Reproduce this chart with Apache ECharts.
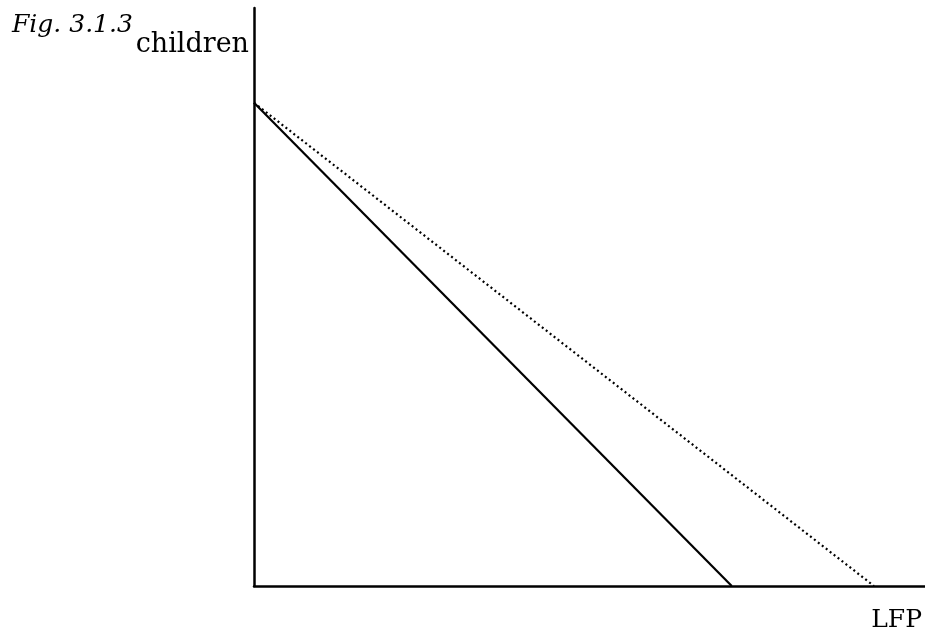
<!DOCTYPE html>
<html>
<head>
<meta charset="utf-8">
<script src="https://cdn.jsdelivr.net/npm/echarts@6/dist/echarts.min.js"></script>
<style>
  html, body { margin: 0; padding: 0; background: #fff; }
  #chart { width: 925px; height: 636px; }
</style>
</head>
<body>
<div id="chart"></div>
<script>
// two budget lines, same y-intercept, different x-intercepts
const solidLine = [[0, 8.36], [7.12, 0]];
const dottedLine = [[0, 8.36], [9.24, 0]];
const figLabel = "Fig. 3.1.3";
const yName = "children";
const xName = "LFP";

const chart = echarts.init(document.getElementById("chart"));
const font = "DejaVu Serif";

const option = {
  animation: false,
  grid: { left: 254, top: 8, right: 0, bottom: 50 },
  xAxis: {
    type: "value",
    min: 0,
    max: 10,
    axisLine: { show: true, lineStyle: { color: "#000", width: 2.5 } },
    axisTick: { show: false },
    axisLabel: { show: false },
    splitLine: { show: false },
  },
  yAxis: {
    type: "value",
    min: 0,
    max: 10,
    axisLine: { show: true, lineStyle: { color: "#000", width: 2.5 } },
    axisTick: { show: false },
    axisLabel: { show: false },
    splitLine: { show: false },
  },
  series: [
    {
      type: "line",
      data: solidLine,
      symbol: "none",
      lineStyle: { color: "#000", width: 2.2, type: "solid" },
    },
    {
      type: "line",
      data: dottedLine,
      symbol: "none",
      lineStyle: { color: "#000", width: 2.2, type: [2, 3] },
    },
  ],
  graphic: [
    {
      type: "text",
      left: 12,
      top: 13,
      style: { text: figLabel, font: "italic 25px '" + font + "'", fill: "#000" },
    },
    {
      type: "text",
      right: 925 - 249,
      top: 31,
      style: { text: yName, font: "27px '" + font + "'", fill: "#000" },
    },
    {
      type: "text",
      right: 3,
      top: 608,
      style: { text: xName, font: "25px '" + font + "'", fill: "#000" },
    },
  ],
};

chart.setOption(option);
</script>
</body>
</html>
